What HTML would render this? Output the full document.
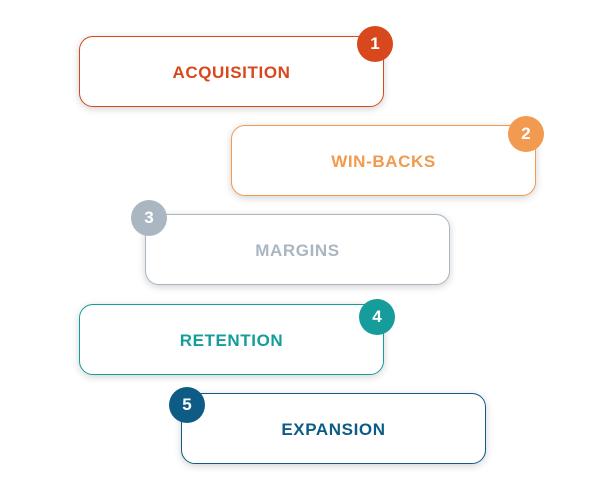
<!DOCTYPE html>
<html><head><style>
body{margin:0;width:600px;height:499px;background:#fff;position:relative;overflow:hidden;font-family:"Liberation Sans",sans-serif}
.b{position:absolute;width:303px;height:69px;border:1.3px solid;border-radius:14px;background:#fff;box-shadow:0 2px 8px rgba(0,0,0,.18);display:flex;align-items:center;justify-content:center;font-weight:bold;font-size:17px;letter-spacing:.6px;padding-top:2px;box-sizing:content-box}
.b{height:67px}
.c{position:absolute;width:36px;height:36px;border-radius:50%;color:#fff;font-weight:bold;font-size:17px;display:flex;align-items:center;justify-content:center}
</style></head><body>
<div class="b" style="left:79px;top:36px;border-color:#d9471c;color:#d9471c">ACQUISITION</div>
<div class="c" style="left:357px;top:26px;background:#d9471c">1</div>
<div class="b" style="left:231px;top:125px;border-color:#f29a4f;color:#f29a4f">WIN-BACKS</div>
<div class="c" style="left:508px;top:116px;background:#f29a4f">2</div>
<div class="b" style="left:145px;top:214px;border-color:#aab7c2;color:#aab7c2">MARGINS</div>
<div class="c" style="left:131px;top:200px;background:#aab7c2">3</div>
<div class="b" style="left:79px;top:304px;border-color:#169c9b;color:#169c9b">RETENTION</div>
<div class="c" style="left:359px;top:299px;background:#169c9b">4</div>
<div class="b" style="left:181px;top:393px;border-color:#0e5c86;color:#0e5c86">EXPANSION</div>
<div class="c" style="left:169px;top:387px;background:#0e5c86">5</div>
</body></html>
